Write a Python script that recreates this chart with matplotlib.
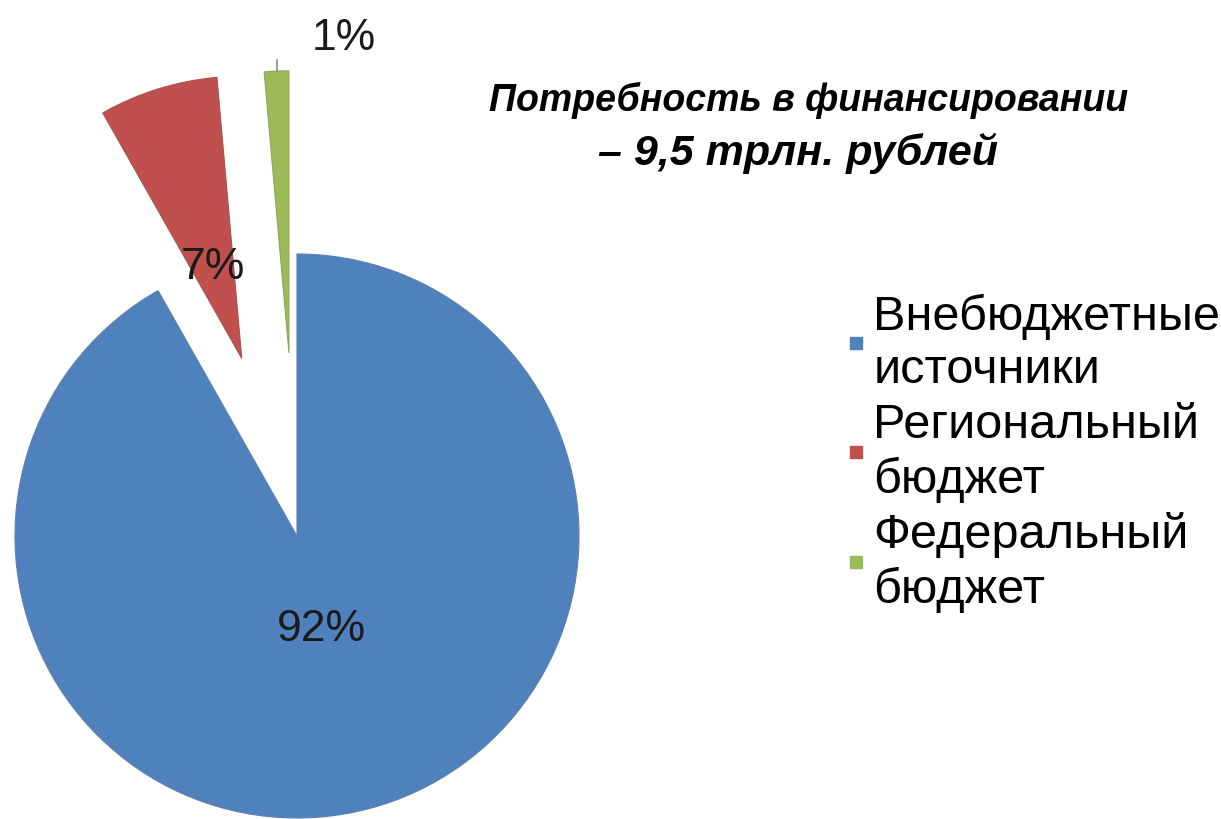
import numpy as np
import matplotlib.pyplot as plt
from matplotlib.lines import Line2D

plt.rcParams['font.family'] = ['Liberation Sans', 'DejaVu Sans']

# данные
labels = ["Внебюджетные\nисточники", "Региональный\nбюджет", "Федеральный\nбюджет"]
shares = [91.8, 6.8, 1.4]
colors = ["#4F81BD", "#C0504D", "#9BBB59"]
edges = ["#5f7fae", "#a8504d", "#8aa85a"]
explode = [0.0, 0.66, 0.65]
title_1 = "Потребность в финансировании"
title_2 = "– 9,5 трлн. рублей"

W, H = 1221, 820
fig = plt.figure(figsize=(W / 100, H / 100), dpi=100)

# оси пирога: 1 единица = 282 px, центр в (297, 537)
R = 282.0
cx, cy = 297.0, 537.0
ax_w = 600
ax = fig.add_axes([0, 0, ax_w / W, 1])

wedges, texts, autotexts = ax.pie(
    shares, colors=colors, explode=explode, startangle=90,
    counterclock=False, autopct="%.0f%%", pctdistance=0.34,
    wedgeprops=dict(linewidth=0.8),
    textprops=dict(fontsize=32, color="#1a1a1a"),
)
for w, ec in zip(wedges, edges):
    w.set_edgecolor(ec)

ax.set_xlim(-cx / R, (ax_w - cx) / R)
ax.set_ylim(-(H - cy) / R, cy / R)
ax.axis("off")

# подпись маленького сектора вынесена наружу
g = wedges[2]
mid = np.deg2rad((g.theta1 + g.theta2) / 2)
px = g.center[0] + g.r * np.cos(mid)
py = g.center[1] + g.r * np.sin(mid)
ax.plot([px, px], [py, py + 0.04], color="#8c8c8c", lw=1.2)
autotexts[2].set_position((px + 0.24, py + 0.12))

# заголовок: вторая строка крупнее
fig.text(809 / W, 1 - 100 / H, title_1, ha="center", va="center",
         fontsize=27, fontweight="bold", fontstyle="italic")
fig.text(798 / W, 1 - 153 / H, title_2, ha="center", va="center",
         fontsize=31, fontweight="bold", fontstyle="italic")

handles = [Line2D([], [], marker="s", linestyle="", markersize=9,
                  markerfacecolor=c, markeredgecolor=c) for c in colors]
leg = fig.legend(handles, labels, loc="upper left",
                 bbox_to_anchor=(849 / W, 1 - 294 / H), frameon=False,
                 fontsize=35, handlelength=0.3, handletextpad=0.2,
                 labelspacing=0.2, borderpad=0, borderaxespad=0)
for t in leg.get_texts():
    t.set_linespacing(1.23)

fig.savefig("out.png", dpi=100)
